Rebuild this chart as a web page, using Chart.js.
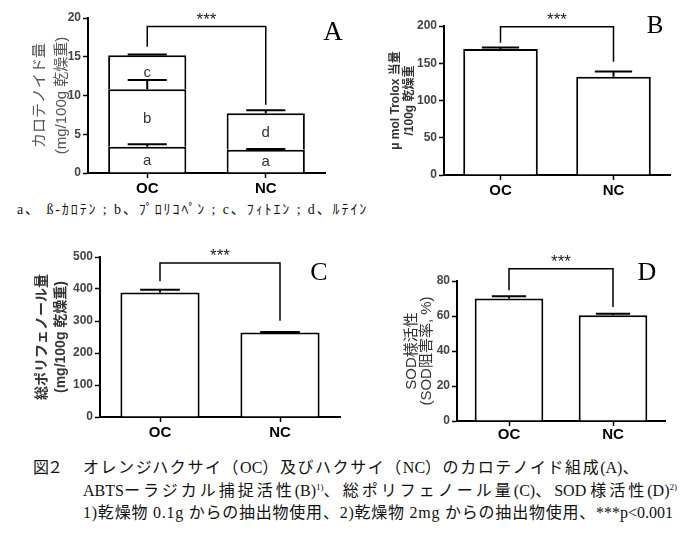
<!DOCTYPE html>
<html><head><meta charset="utf-8">
<script src="https://cdn.jsdelivr.net/npm/chart.js@4.4.0/dist/chart.umd.min.js"></script>
<style>
body{margin:0;background:#fff;width:700px;height:539px;position:relative;overflow:hidden}
canvas{position:absolute}
.t{position:absolute;white-space:nowrap;line-height:20px;color:#111;font-family:"Liberation Serif","Noto Sans CJK JP",serif;font-size:16px}
.t sup{font-size:9px;line-height:0;vertical-align:6px;letter-spacing:0}
.t .l{letter-spacing:0}
</style></head><body>
<canvas id="cA" width="350" height="200" style="left:0;top:0"></canvas>
<canvas id="cB" width="350" height="200" style="left:350px;top:0"></canvas>
<canvas id="cC" width="350" height="215" style="left:0;top:230px"></canvas>
<canvas id="cD" width="350" height="215" style="left:350px;top:230px"></canvas>
<div class="t" id="leg" style="left:17px;top:200px;font-size:14px">a、 ß-ｶﾛﾃﾝ ; b、ﾌﾟﾛﾘｺﾍﾟﾝ ; c、ﾌｨﾄｴﾝ ; d、ﾙﾃｲﾝ</div>
<div class="t" id="cap0" style="left:33px;top:458px">図２</div>
<div class="t" id="cap1" style="left:83px;top:458px">オレンジハクサイ（<span class="l">OC</span>）及びハクサイ（<span class="l">NC</span>）のカロテノイド組成<span class="l">(A)</span>、</div>
<div class="t" id="cap2" style="left:83px;top:481px"><span class="l">ABTS</span>ーラジカル捕捉活性<span class="l">(B)</span><sup>1)</sup>、総ポリフェノール量<span class="l">(C)</span>、<span class="l">SOD </span>様活性<span class="l">(D)</span><sup>2)</sup></div>
<div class="t" id="cap3" style="left:83px;top:503px">1)乾燥物 0.1g からの抽出物使用、2)乾燥物 2mg からの抽出物使用、<span class="l">***p&lt;0.001</span></div>
<script>
// ---- data ----
const categories = ['OC', 'NC'];
// A: carotenoid composition (mg/100g dry weight)
const aBetaCarotene = [3.4, 3.0];
const bProlycopene  = [7.4, null];
const cPhytoene     = [4.4, null];
const dLutein       = [null, 4.7];
const errA_a = [3.7, 3.1];
const errA_b = [12.0, null];
const errA_c = [15.3, null];
const errA_d = [null, 8.1];
const bracketA = [18.9, 16.3, 8.8];
// B: ABTS radical scavenging (µmol Trolox eq / 100g dry weight)
const abtsValues = [169, 132];
const abtsErr    = [171, 139];
const bracketB   = [199, 177.5, 152];
// C: total polyphenol (mg/100g dry weight)
const polyValues = [389, 264];
const polyErr    = [398, 266];
const bracketC   = [481, 424, 301];
// D: SOD-like activity (% inhibition)
const sodValues = [70.0, 60.4];
const sodErr    = [71.3, 61.3];
const bracketD  = [87, 74.7, 65.2];

const annot = {
  id: 'annot',
  afterDatasetsDraw(chart, args, opts) {
    const ctx = chart.ctx, y = chart.scales.y;
    ctx.save();
    ctx.strokeStyle = '#000';
    chart.data.datasets.forEach((ds, i) => {
      const meta = chart.getDatasetMeta(i);
      meta.data.forEach((el, j) => {
        const v = ds.data[j];
        if (v == null) return;
        const e = ds.errTop ? ds.errTop[j] : null;
        if (e != null) {
          const py = y.getPixelForValue(e);
          const hw = el.width * opts.cap / 2;
          ctx.lineWidth = 2;
          ctx.beginPath();
          ctx.moveTo(el.x, el.y); ctx.lineTo(el.x, py);
          ctx.moveTo(el.x - hw, py); ctx.lineTo(el.x + hw, py);
          ctx.stroke();
        }
        if (ds.segLabel) {
          const c = el.getCenterPoint();
          ctx.fillStyle = '#333';
          ctx.font = '15px "Liberation Sans"';
          ctx.textAlign = 'center'; ctx.textBaseline = 'middle';
          ctx.fillText(ds.segLabel, c.x, c.y + 1);
        }
      });
    });
    const b = opts.bracket;
    const m0 = chart.getDatasetMeta(0).data;
    const x0 = m0[0].x, x1 = m0[1].x;
    const top = y.getPixelForValue(b[0]);
    ctx.lineWidth = 1.5;
    ctx.beginPath();
    ctx.moveTo(x0, y.getPixelForValue(b[1])); ctx.lineTo(x0, top);
    ctx.lineTo(x1, top); ctx.lineTo(x1, y.getPixelForValue(b[2]));
    ctx.stroke();
    ctx.font = '17px "Liberation Sans"';
    ctx.textAlign = 'center'; ctx.textBaseline = 'alphabetic';
    ctx.fillStyle = '#222';
    ctx.fillText('***', (x0 + x1) / 2, top - 2);
    ctx.font = opts.letterFont;
    ctx.fillStyle = '#000';
    ctx.fillText(opts.letter, opts.lx, opts.ly);
    ctx.restore();
  }
};

function makeChart(id, cfg) {
  const ds = cfg.datasets.map(d => Object.assign({
    backgroundColor: '#fff', borderColor: '#000',
    borderWidth: {top: 2, left: 2, right: 2, bottom: 0},
    borderSkipped: false, inflateAmount: 0,
    barPercentage: 0.66, categoryPercentage: 1.0
  }, d));
  return new Chart(document.getElementById(id), {
    type: 'bar',
    data: {labels: categories, datasets: ds},
    plugins: [annot],
    options: {
      responsive: false, animation: false,
      layout: {padding: {top: cfg.padTop, right: cfg.padRight, left: 0, bottom: 0}},
      plugins: {
        legend: {display: false}, tooltip: {enabled: false},
        annot: {bracket: cfg.bracket, cap: 0.5, letter: cfg.letter, letterFont: cfg.letterFont, lx: cfg.lx, ly: cfg.ly}
      },
      scales: {
        x: {
          stacked: !!cfg.stacked,
          grid: {display: true, drawOnChartArea: false, offset: false, drawTicks: true, tickLength: 5, tickColor: '#000', tickWidth: 1.5},
          border: {display: true, color: '#000', width: 2},
          ticks: {color: '#000', font: {family: '"Liberation Sans"', weight: 'bold', size: 15}, padding: cfg.xPad},
          afterFit(s) { s.height = cfg.xH; }
        },
        y: {
          stacked: !!cfg.stacked,
          min: 0, max: cfg.max,
          ticks: {stepSize: cfg.step, color: '#444', font: {family: '"Liberation Sans"', weight: 'bold', size: 12}, padding: 2},
          grid: {display: true, drawOnChartArea: false, drawTicks: true, tickLength: 5, tickColor: '#000', tickWidth: 1.5},
          border: {display: true, color: '#000', width: 2},
          title: {display: true, text: cfg.title, color: cfg.titleColor,
                  font: cfg.titleFont, padding: {top: cfg.titlePad, bottom: 0}},
          afterFit(s) { s.width = cfg.yW; }
        }
      }
    }
  });
}

makeChart('cA', {
  stacked: true, max: 20, step: 5, padTop: 18, padRight: 25, yW: 88, xH: 27, xPad: 2,
  datasets: [
    {data: aBetaCarotene, errTop: errA_a, segLabel: 'a'},
    {data: bProlycopene, errTop: errA_b, segLabel: 'b'},
    {data: cPhytoene, errTop: errA_c, segLabel: 'c'},
    {data: dLutein, errTop: errA_d, segLabel: 'd'}
  ],
  bracket: bracketA, letter: 'A', letterFont: '27px "Liberation Serif"', lx: 333, ly: 40,
  title: ['カロテノイド量', '(mg/100g 乾燥重)'], titleColor: '#555',
  titleFont: {family: '"Liberation Sans","Noto Sans CJK JP"', size: 15, lineHeight: 1.47}, titlePad: 29
});
makeChart('cB', {
  max: 200, step: 50, padTop: 26, padRight: 30, yW: 94, xH: 25, xPad: 2,
  datasets: [{data: abtsValues, errTop: abtsErr}],
  bracket: bracketB, letter: 'B', letterFont: '25px "Liberation Serif"', lx: 305, ly: 33,
  title: ['μ mol Trolox 当量', '/100g 乾燥重'], titleColor: '#333',
  titleFont: {family: '"Liberation Sans","Noto Sans CJK JP"', size: 12, weight: 'bold', lineHeight: 1.17}, titlePad: 39
});
makeChart('cC', {
  max: 500, step: 100, padTop: 27, padRight: 10, yW: 100, xH: 28, xPad: 2,
  datasets: [{data: polyValues, errTop: polyErr}],
  bracket: bracketC, letter: 'C', letterFont: '26px "Liberation Serif"', lx: 319, ly: 50,
  title: ['総ポリフェノール量', '(mg/100g 乾燥重)'], titleColor: '#333',
  titleFont: {family: '"Liberation Sans","Noto Sans CJK JP"', size: 14, weight: 'bold', lineHeight: 1.36}, titlePad: 33
});
makeChart('cD', {
  max: 80, step: 20, padTop: 51, padRight: 35, yW: 107, xH: 24, xPad: 0,
  datasets: [{data: sodValues, errTop: sodErr}],
  bracket: bracketD, letter: 'D', letterFont: '26px "Liberation Serif"', lx: 297, ly: 50,
  title: ['SOD様活性', '(SOD阻害率, %)'], titleColor: '#333',
  titleFont: {family: '"Liberation Sans","Noto Sans CJK JP"', size: 15, lineHeight: 1.0}, titlePad: 54
});

function fit(id, target) {
  const el = document.getElementById(id);
  el.style.letterSpacing = '0px';
  const w = el.getBoundingClientRect().width;
  let n = 0;
  (function walk(node, fixed) {
    node.childNodes.forEach(c => {
      if (c.nodeType === 3) { if (!fixed) n += [...c.textContent].length; }
      else walk(c, fixed || c.classList.contains('l') || c.tagName === 'SUP');
    });
  })(el, false);
  el.style.letterSpacing = ((target - w) / Math.max(n, 1)) + 'px';
}
fit('leg', 355);
fit('cap0', 28);
fit('cap1', 557);
fit('cap2', 594);
fit('cap3', 590);
</script>
</body></html>
